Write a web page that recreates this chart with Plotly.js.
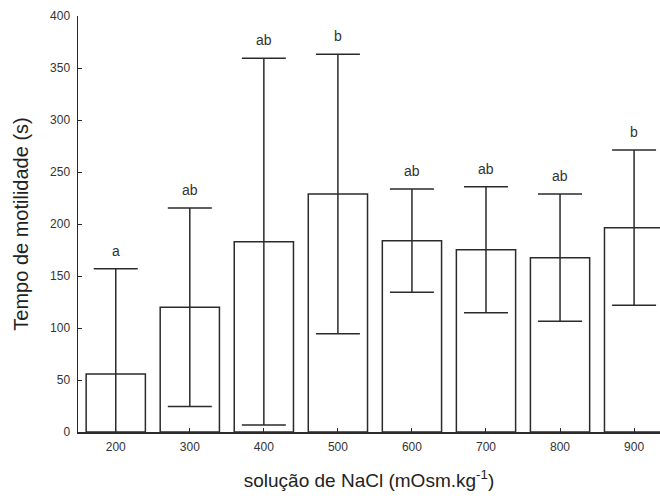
<!DOCTYPE html>
<html>
<head>
<meta charset="utf-8">
<script src="https://cdn.plot.ly/plotly-3.0.1.min.js"></script>
<style>html,body{margin:0;padding:0;background:#fff;}#chart{width:660px;height:500px;}</style>
</head>
<body>
<div id="chart"></div>
<script>
// Data
const concentrations = [200, 300, 400, 500, 600, 700, 800, 900];
const meanTime = [55.8, 120, 183, 228.8, 184, 175.3, 167.6, 196.5];
const sdTime = [101.2, 95.4, 176.3, 134.4, 49.6, 60.6, 61.2, 74.7];
const groupLetters = ["a", "ab", "ab", "b", "ab", "ab", "ab", "b"];
const yTicks = [0, 50, 100, 150, 200, 250, 300, 350, 400];

const ink = "#2b2b2b";

const trace = {
  type: "bar",
  x: concentrations,
  y: meanTime,
  width: 80,
  marker: { color: "#ffffff", line: { color: ink, width: 1.5 } },
  error_y: { type: "data", array: sdTime, symmetric: true, visible: true, color: ink, thickness: 1.5, width: 22 },
  hoverinfo: "skip"
};

const annotations = concentrations.map((c, i) => ({
  x: c,
  y: meanTime[i] + sdTime[i],
  xref: "x", yref: "y",
  text: groupLetters[i],
  showarrow: false,
  yanchor: "bottom",
  yshift: 8,
  font: { family: "Liberation Sans, Arial, sans-serif", size: 14, color: "#333" }
}));

const layout = {
  width: 660, height: 500,
  margin: { l: 78, r: 0, t: 16, b: 68 },
  paper_bgcolor: "#fff", plot_bgcolor: "#fff",
  showlegend: false,
  font: { family: "Liberation Sans, Arial, sans-serif", color: "#333" },
  xaxis: {
    range: [149, 935],
    tickvals: concentrations,
    ticktext: concentrations.map(String),
    ticks: "inside", ticklen: 4, tickcolor: ink, tickwidth: 1,
    showline: true, linecolor: ink, linewidth: 2,
    showgrid: false, zeroline: false,
    tickfont: { size: 12, color: "#333" },
    ticklabelstandoff: 3,
    title: { text: "solução de NaCl (mOsm.kg<sup>-1</sup>)", font: { size: 19, color: "#222" }, standoff: 20 }
  },
  yaxis: {
    range: [0, 400],
    tickvals: yTicks,
    ticktext: yTicks.map(String),
    ticks: "inside", ticklen: 4, tickcolor: ink, tickwidth: 1,
    showline: true, linecolor: ink, linewidth: 1.5,
    showgrid: false, zeroline: false,
    tickfont: { size: 12, color: "#333" },
    ticklabelstandoff: 4,
    title: { text: "Tempo de motilidade (s)", font: { size: 20, color: "#222" }, standoff: 16 }
  },
  annotations: annotations
};

Plotly.newPlot("chart", [trace], layout, { staticPlot: true, displayModeBar: false });
</script>
</body>
</html>
